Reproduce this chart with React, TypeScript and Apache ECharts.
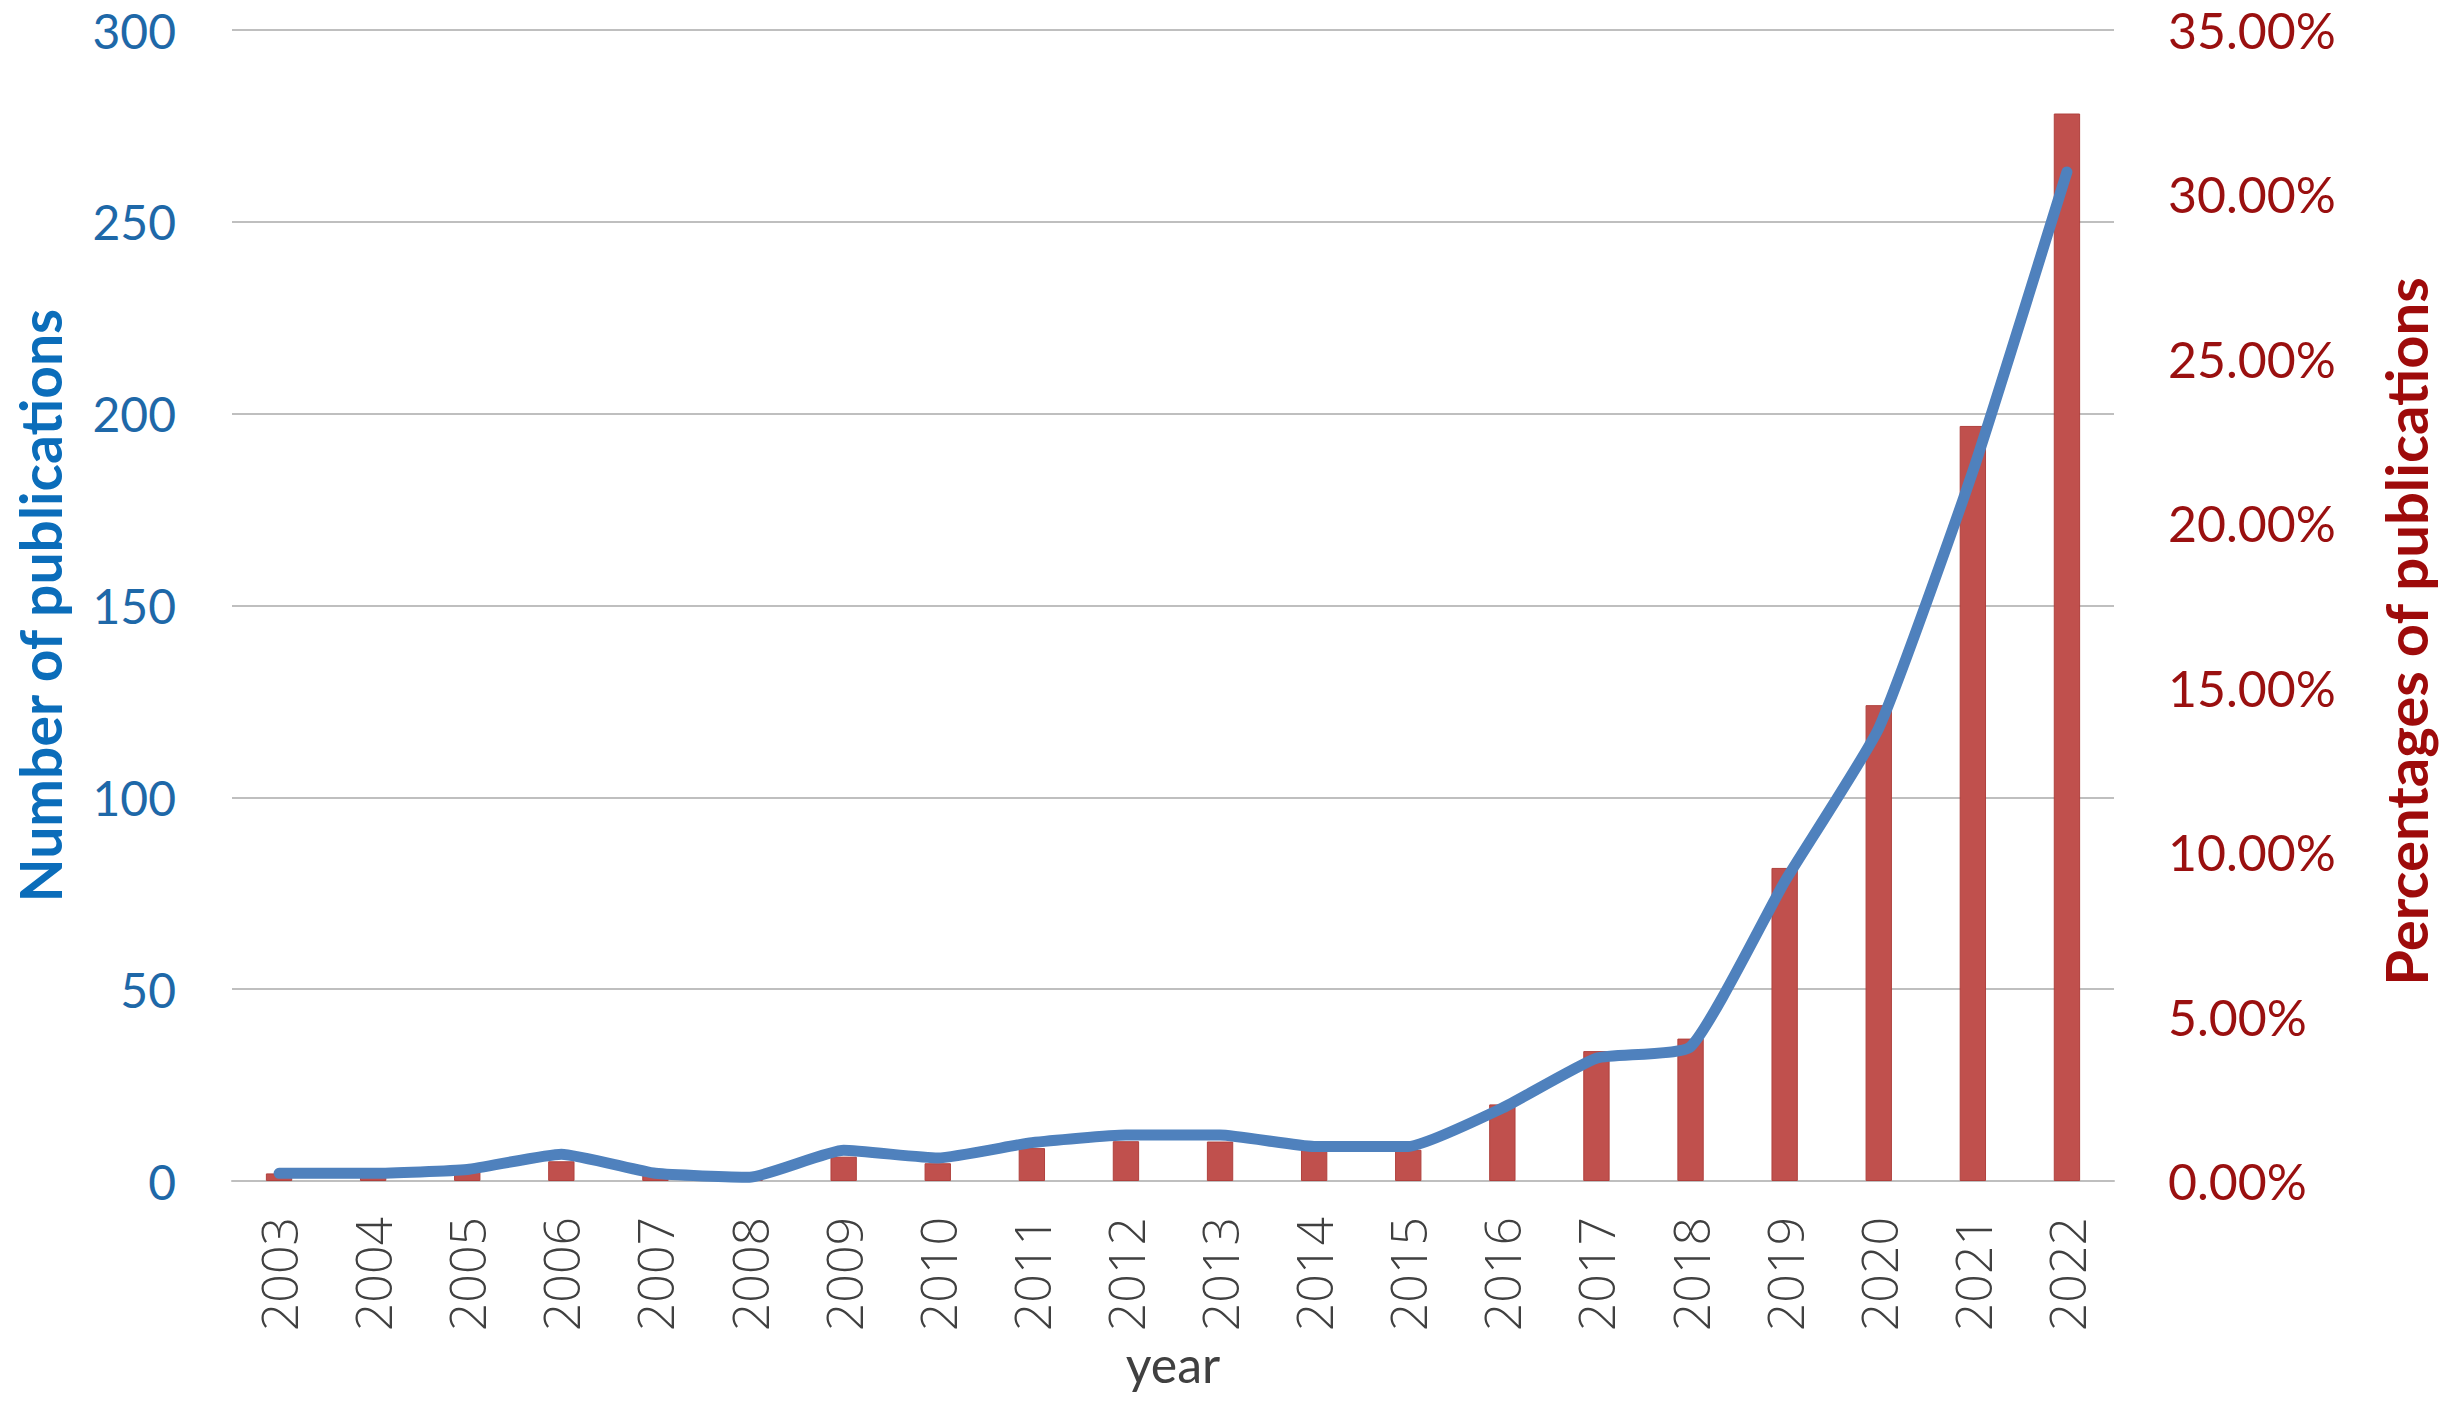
import React, { useEffect, useRef } from "react";
import * as echarts from "echarts";

const years = ["2003","2004","2005","2006","2007","2008","2009","2010","2011","2012","2013","2014","2015","2016","2017","2018","2019","2020","2021","2022"];
const publications = [2, 2, 3, 7, 2, 1, 8, 6, 10, 12, 12, 9, 9, 19, 32, 35, 78, 118, 185, 263];
const percentages = [0.23, 0.2, 0.37, 0.6, 0.2, 0.1, 0.74, 0.54, 1.0, 1.21, 1.2, 0.95, 0.95, 2.33, 3.95, 4.33, 9.52, 14.47, 22.96, 32.46];
const leftTicks = { min: 0, max: 300, interval: 50 };
const rightTicks = { min: 0, max: 35, interval: 5 };

export default function App() {
  const ref = useRef<HTMLDivElement>(null);
  useEffect(() => {
    if (!ref.current) return;
    const chart = echarts.init(ref.current, null, { renderer: "svg" });
    chart.setOption({
      animation: false,
      backgroundColor: "#ffffff",
      grid: { left: 232, right: 335, top: 30, bottom: 222, containLabel: false },
      xAxis: {
        type: "category",
        data: years,
        boundaryGap: true,
        name: "year",
        nameLocation: "middle",
        nameGap: 150,
        nameTextStyle: { fontFamily: "Lato", fontSize: 50, color: "#404040" },
        axisLine: { show: true, lineStyle: { color: "#BFBFBF", width: 2 } },
        axisTick: { show: false },
        axisLabel: {
          rotate: 90,
          margin: 36,
          fontFamily: "Open Sans",
          fontWeight: 300,
          fontSize: 50,
          color: "#404040",
        },
      },
      yAxis: [
        {
          type: "value",
          min: leftTicks.min,
          max: leftTicks.max,
          interval: leftTicks.interval,
          name: "Number of publications",
          nameLocation: "middle",
          nameRotate: 90,
          nameGap: 164,
          nameTextStyle: { fontFamily: "Lato", fontWeight: "bold", fontSize: 57, color: "#0B6DBA" },
          axisLine: { show: false },
          axisTick: { show: false },
          axisLabel: { margin: 56, fontFamily: "Lato", fontSize: 48, color: "#1E68A8" },
          splitLine: { show: true, lineStyle: { color: "#BFBFBF", width: 2 } },
        },
        {
          type: "value",
          min: rightTicks.min,
          max: rightTicks.max,
          interval: rightTicks.interval,
          position: "right",
          name: "Percentages of publications",
          nameLocation: "middle",
          nameRotate: 90,
          nameGap: 262,
          nameTextStyle: {
            fontFamily: "Lato",
            fontWeight: "bold",
            fontSize: 58,
            color: "#9E0B0B",
            padding: [0, 52, 0, 0],
          },
          axisLine: { show: false },
          axisTick: { show: false },
          axisLabel: {
            margin: 54,
            fontFamily: "Lato",
            fontSize: 50,
            color: "#9A1010",
            formatter: (v: number) => v.toFixed(2) + "%",
          },
          splitLine: { show: false },
        },
      ],
      series: [
        {
          name: "Percentages of publications",
          type: "bar",
          yAxisIndex: 1,
          data: percentages,
          barWidth: "28%",
          itemStyle: { color: "#C0504D", borderColor: "#B0403D", borderWidth: 1 },
          z: 2,
        },
        {
          name: "Number of publications",
          type: "line",
          yAxisIndex: 0,
          data: publications,
          smooth: 0.15,
          symbol: "none",
          lineStyle: { color: "#4F81BD", width: 11, cap: "round", join: "round" },
          z: 3,
        },
      ],
    });
    return () => chart.dispose();
  }, []);
  return (
    <div
      ref={ref}
      style={{ position: "fixed", left: 0, top: 0, width: "2449px", height: "1403px" }}
    />
  );
}
